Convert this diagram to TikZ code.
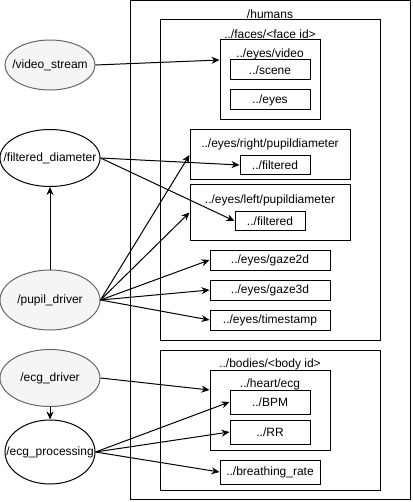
\documentclass[tikz,border=0pt]{standalone}
\usepackage{fontspec}
\setmainfont{Liberation Sans}
\usepackage{tikz}
\usetikzlibrary{arrows.meta,positioning,shapes.geometric}
\definecolor{drivergray}{HTML}{F5F5F5}
\definecolor{drivergrayline}{HTML}{666666}
\tikzset{
  topic/.style={rectangle,draw,line width=1pt,inner sep=0pt},
  proc/.style={ellipse,draw,line width=1pt,inner sep=0pt,minimum width=100pt,minimum height=60pt},
  driver/.style={proc,fill=drivergray,draw=drivergrayline},
  title/.style={inner sep=0pt},
  every node/.style={font=\fontsize{12}{14}\selectfont}
}
\tikzstyle{arrow} = [line width=1pt,-{Stealth[length=8pt,width=7pt]}]
\newcommand{\procname}[1]{\makebox[0pt]{#1}}

\begin{document}
\begin{tikzpicture}[x=1pt,y=-1pt]
  \useasboundingbox (0,0) rectangle (412,502);

  % --- /humans namespace ---
  \node[topic,minimum width=280pt,minimum height=498pt] (humans) at (270,250) {};
  \node[title] (humanslbl) at (270,14) {/humans};

  % --- faces ---
  \node[topic,minimum width=220pt,minimum height=320pt] (faces) at (270,180) {};
  \node[title] (faceslbl) at (270,34) {../faces/<face id>};
  \node[topic,minimum width=100pt,minimum height=80pt] (video) at (270,80) {};
  \node[title] (videolbl) at (270,54) {../eyes/video};
  \node[topic,minimum width=80pt,minimum height=20pt] (scene) at (270,70) {../scene};
  \node[topic,minimum width=80pt,minimum height=20pt] (eyes) at (270,100) {../eyes};

  \node[topic,minimum width=160pt,minimum height=50pt] (rpupil) at (270,155) {};
  \node[title] (rpupillbl) at (270,144) {../eyes/right/pupildiameter};
  \node[topic,minimum width=70pt,minimum height=19pt] (rfilt) at (275,165) {../filtered};

  \node[topic,minimum width=160pt,minimum height=55pt] (lpupil) at (270,212.5) {};
  \node[title] (lpupillbl) at (270,200) {../eyes/left/pupildiameter};
  \node[topic,minimum width=70pt,minimum height=19pt] (lfilt) at (270,221) {../filtered};

  \node[topic,minimum width=120pt,minimum height=20pt] (gaze2d) at (270,260) {../eyes/gaze2d};
  \node[topic,minimum width=120pt,minimum height=20pt] (gaze3d) at (270,290) {../eyes/gaze3d};
  \node[topic,minimum width=120pt,minimum height=20pt] (tstamp) at (270,320) {../eyes/timestamp};

  % --- bodies ---
  \node[topic,minimum width=220pt,minimum height=140pt] (bodies) at (270,420) {};
  \node[title] (bodieslbl) at (270,364) {../bodies/<body id>};
  \node[topic,minimum width=120pt,minimum height=80pt] (ecg) at (270,410) {};
  \node[title] (ecglbl) at (270,384) {../heart/ecg};
  \node[topic,minimum width=80pt,minimum height=24pt] (bpm) at (270,402) {../BPM};
  \node[topic,minimum width=80pt,minimum height=24pt] (rr) at (270,432) {../RR};
  \node[topic,minimum width=100pt,minimum height=24pt] (brate) at (270,472) {../breathing\_rate};

  % --- nodes ---
  \node[driver,minimum width=90pt,minimum height=50pt] (vstream) at (50,65) {\procname{/video\_stream}};
  \node[proc,minimum height=57pt] (fdiam) at (50,158) {\procname{/filtered\_diameter}};
  \node[driver] (pdriver) at (50,300) {\procname{/pupil\_driver}};
  \node[driver,minimum height=57pt] (edriver) at (50,378) {\procname{/ecg\_driver}};
  \node[proc,minimum width=90pt,minimum height=64pt] (eproc) at (50,452) {\procname{/ecg\_processing}};

  % --- connections ---
  \draw[arrow] (vstream.east) -- ([yshift=20pt]video.west);
  \draw[arrow] (fdiam.east) -- (rfilt.west);
  \draw[arrow] (fdiam.east) -- (lfilt.west);
  \draw[arrow] (pdriver.north) -- (fdiam.south);
  \foreach \t in {rpupil,lpupil,gaze2d,gaze3d,tstamp}
    \draw[arrow] (pdriver.east) -- (\t.west);
  \draw[arrow] (edriver.east) -- ([yshift=20pt]ecg.west);
  \draw[arrow] (edriver.south) -- (eproc.north);
  \foreach \t in {bpm,rr,brate}
    \draw[arrow] (eproc.east) -- (\t.west);
\end{tikzpicture}
\end{document}
